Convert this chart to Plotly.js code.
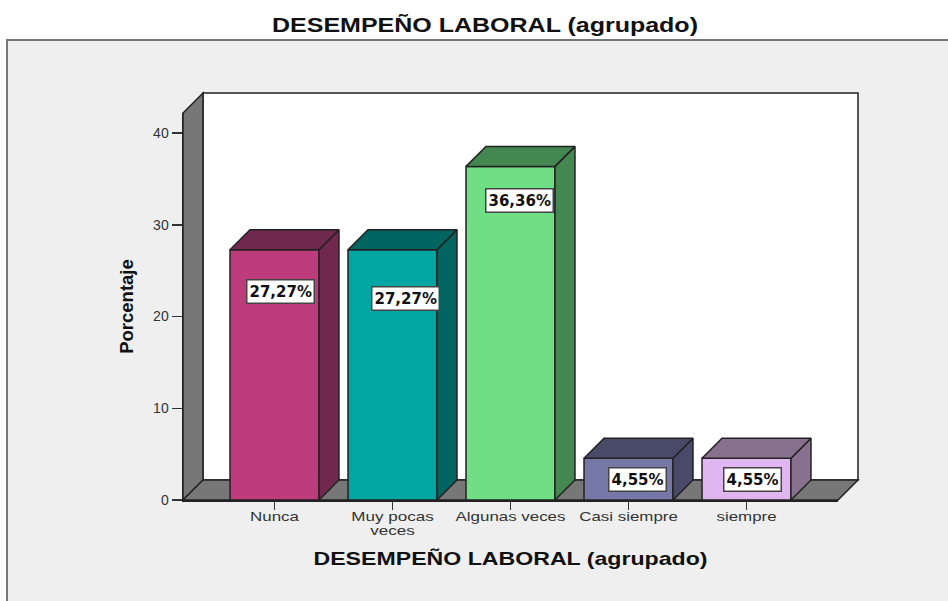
<!DOCTYPE html>
<html><head><meta charset="utf-8">
<script src="https://cdn.plot.ly/plotly-3.0.1.min.js"></script>
<style>html,body{margin:0;padding:0;background:#fff}</style></head>
<body><div id="chart" style="width:948px;height:601px"></div>
<script>
const categories = ['Nunca', 'Muy pocas<br>veces', 'Algunas veces', 'Casi siempre', 'siempre'];
const percentages = [27.27, 27.27, 36.36, 4.55, 4.55];
const labels = ['27,27%', '27,27%', '36,36%', '4,55%', '4,55%'];
const frontColors = ['#bc3c7c', '#00a6a3', '#70de85', '#7679a8', '#dfb6f0'];
const depthColors = ['#70284f', '#006560', '#448750', '#484a68', '#88708f'];
const labelX = [1.05, 2.11, 3.08, 4.08, 5.05];
const labelY = [22.7, 22.0, 32.6, 2.2, 2.2];
const yTicks = [0, 10, 20, 30, 40];

const W = 948, H = 601, L = 183, R = 838, T = 113, B = 500;
const xmin = 0.2246, xmax = 5.7754, ymax = 42.18;
const barW = 0.754, dx = 20 / 118, dy = 20 / 9.175;
const xs = categories.map((_, i) => i + 1);
const PX = v => (v - xmin) / (xmax - xmin), PY = v => v / ymax;
const path = pts => 'M' + pts.map(p => PX(p[0]) + ',' + PY(p[1])).join('L') + 'Z';
const wallStyle = {type: 'path', xref: 'paper', yref: 'paper', layer: 'below', fillcolor: '#777777', line: {color: '#222', width: 1.5}};

const traces = [{
  type: 'bar', x: xs, y: percentages, width: barW, hoverinfo: 'skip', showlegend: false,
  marker: {color: frontColors, line: {color: '#222', width: 1.5}}
}];
xs.forEach((c, i) => {
  const v = percentages[i], l = c - barW / 2, r = c + barW / 2;
  const face = (x, y) => ({type: 'scatter', mode: 'lines', x, y, fill: 'toself', fillcolor: depthColors[i],
    line: {color: '#222', width: 1.5}, hoverinfo: 'skip', showlegend: false, cliponaxis: false});
  traces.push(face([r, r + dx, r + dx, r, r], [0, dy, v + dy, v, 0]));
  traces.push(face([l, r, r + dx, l + dx, l], [v, v, v + dy, v + dy, v]));
});

const sx = p => (p - L) / (R - L), sy = p => (B - p) / (B - T);
const shapes = [
  {type: 'rect', xref: 'paper', yref: 'paper', layer: 'below', x0: sx(7), x1: sx(960), y0: sy(620), y1: sy(40),
   fillcolor: '#efefef', line: {color: '#777', width: 2}},
  Object.assign({}, wallStyle, {path: path([[xmin + dx, dy], [xmax + dx, dy], [xmax + dx, ymax + dy], [xmin + dx, ymax + dy]]), fillcolor: '#ffffff'}),
  Object.assign({}, wallStyle, {path: path([[xmin, 0], [xmin + dx, dy], [xmin + dx, ymax + dy], [xmin, ymax]])}),
  Object.assign({}, wallStyle, {path: path([[xmin, 0], [xmin + dx, dy], [xmax + dx, dy], [xmax, 0]])})
];

const annotations = labels.map((t, i) => ({
  text: t, x: labelX[i], y: labelY[i], xref: 'x', yref: 'y', showarrow: false,
  font: {family: 'DejaVu Sans', size: 15, color: '#111', weight: 'bold'},
  bgcolor: '#fff', bordercolor: '#444', borderwidth: 1.5, borderpad: 2
}));

Plotly.newPlot('chart', traces, {
  width: W, height: H, showlegend: false, bargap: 0,
  margin: {l: L, r: W - R, t: T, b: H - B, pad: 0},
  paper_bgcolor: '#fff', plot_bgcolor: 'rgba(0,0,0,0)',
  font: {family: 'Liberation Sans', color: '#333'},
  title: {text: 'DESEMPEÑO LABORAL (agrupado)', x: 485 / W, xanchor: 'center', y: 1 - 25 / H, yanchor: 'middle',
    font: {family: 'Liberation Sans', size: 20, color: '#111', weight: 'bold'}},
  xaxis: {range: [xmin, xmax], tickmode: 'array', tickvals: xs, ticktext: categories, ticks: 'outside', ticklen: 8, tickwidth: 1.5,
    tickcolor: '#333', showgrid: false, zeroline: false, showline: true, linecolor: '#222', linewidth: 1.5, tickangle: 0,
    ticklabelstandoff: -4,
    tickfont: {size: 13, family: 'Liberation Sans', color: '#333'},
    title: {text: 'DESEMPEÑO LABORAL (agrupado)', standoff: 12, font: {family: 'Liberation Sans', size: 18.5, color: '#111', weight: 'bold'}}},
  yaxis: {range: [0, ymax], tickmode: 'array', tickvals: yTicks, ticks: 'outside', ticklen: 10, tickwidth: 1.5,
    tickcolor: '#333', showgrid: false, zeroline: false, showline: true, linecolor: '#222', linewidth: 1.5,
    tickfont: {size: 14, family: 'Liberation Sans', color: '#333'},
    title: {text: 'Porcentaje', standoff: 14, font: {family: 'Liberation Sans', size: 18.5, color: '#111', weight: 'bold'}}},
  shapes, annotations
}, {displayModeBar: false, staticPlot: true}).then(gd => {
  // The reference's horizontal text is stretched sideways; match that on the real text nodes.
  const widen = (el, f) => { el.setAttribute('textLength', el.getComputedTextLength() * f); el.setAttribute('lengthAdjust', 'spacingAndGlyphs'); };
  gd.querySelectorAll('.gtitle, .xtitle').forEach(t => widen(t, 1.25));
  gd.querySelectorAll('.xtick text').forEach(t => {
    const lines = t.querySelectorAll('tspan.line');
    if (lines.length) lines.forEach((s, i) => { if (i) s.setAttribute('dy', '1.08em'); widen(s, 1.31); });
    else widen(t, 1.3);
  });
});
</script></body></html>
